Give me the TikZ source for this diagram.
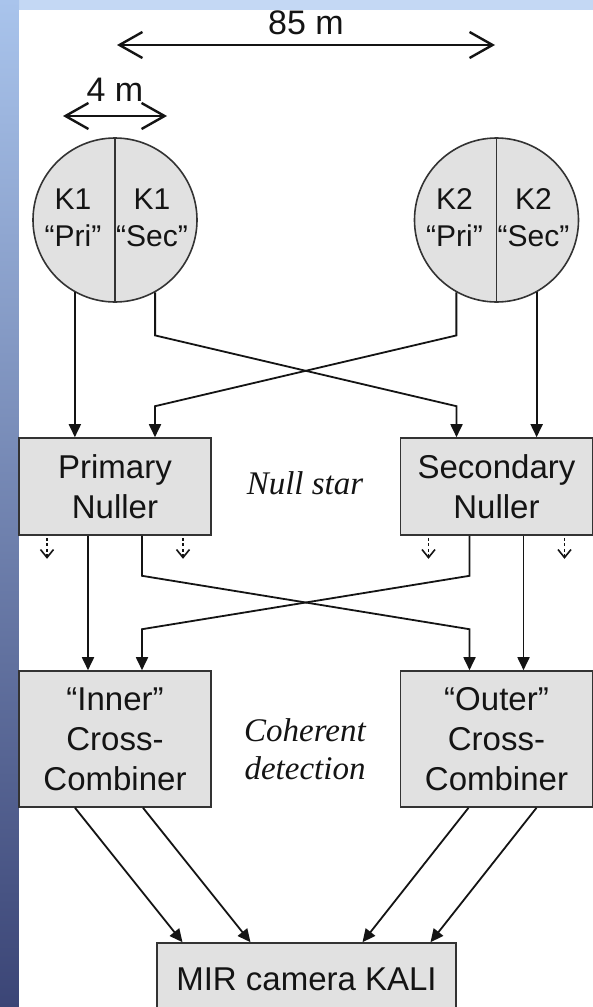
\documentclass[tikz,border=0pt]{standalone}
\usepackage{fontspec}
\setmainfont{Liberation Sans}
\newfontfamily\serifit{Liberation Serif}
\usetikzlibrary{arrows.meta}
\definecolor{boxgray}{HTML}{E1E1E1}
\definecolor{edgegray}{HTML}{333333}
\definecolor{inkgray}{HTML}{141414}
\definecolor{skytop}{HTML}{A9C4EC}
\definecolor{skybottom}{HTML}{3B4576}
\definecolor{skybar}{HTML}{C4D8F4}
\tikzstyle{block} = [draw=edgegray, fill=boxgray, rectangle, line width=1.6pt,
    minimum width=192pt, align=center, font=\fontsize{33}{40}\selectfont, text=inkgray]
\tikzstyle{dish} = [draw=edgegray, fill=boxgray, circle, line width=1.6pt,
    minimum size=164pt, inner sep=0pt]
\tikzstyle{half} = [align=center, font=\fontsize{30}{37}\selectfont, text=inkgray]
\tikzstyle{note} = [align=center, font=\serifit\itshape\fontsize{33}{38}\selectfont, text=inkgray]
\tikzstyle{line} = [draw=inkgray, line width=1.8pt, -{Triangle[length=13pt,width=12pt]}]
\tikzstyle{leak} = [draw=inkgray, line width=1.6pt, dash pattern=on 3pt off 2.5pt,
    -{Straight Barb[length=8pt,width=13pt]}]
\tikzstyle{gauge} = [draw=inkgray, line width=2.4pt,
    {Straight Barb[length=23pt,width=26pt]}-{Straight Barb[length=23pt,width=26pt]}]
\begin{document}
\begin{tikzpicture}[x=1pt, y=-1pt, node distance=381.5pt]
    % backdrop
    \fill [skybar] (0,0) rectangle (593,1007);
    \shade [top color=skytop, bottom color=skybottom] (0,0) rectangle (19,1007);
    \fill [white] (19,10) rectangle (593,1007);
    \useasboundingbox (0,0) rectangle (593,1007);
    % baselines
    \coordinate (far w) at (117,45);
    \coordinate (far e) at (495,45);
    \coordinate (dish w) at (63,116);
    \coordinate (dish e) at (167,116);
    \path [gauge] (far w) -- node [above=6pt, font=\fontsize{34}{40}\selectfont, text=inkgray] (span85) {85 m} (far e);
    \path [gauge] (dish w) -- node [above=10pt, font=\fontsize{34}{40}\selectfont, text=inkgray] (span4) {4 m} (dish e);
    % telescopes
    \node [dish] (k1) at (115,220) {};
    \node [dish, right of=k1] (k2) {};
    \draw [edgegray, line width=1.6pt] (k1.north) -- (k1.south);
    \draw [edgegray, line width=1.6pt] (k2.north) -- (k2.south);
    \node [half, left of=k1, node distance=42pt, yshift=2pt] (k1pri) {K1\\“Pri”};
    \node [half, right of=k1, node distance=37pt, yshift=2pt] (k1sec) {K1\\“Sec”};
    \node [half, left of=k2, node distance=42pt, yshift=2pt] (k2pri) {K2\\“Pri”};
    \node [half, right of=k2, node distance=37pt, yshift=2pt] (k2sec) {K2\\“Sec”};
    % nullers
    \node [block, minimum height=97pt, below of=k1, node distance=266.5pt] (pn) {Primary\\Nuller};
    \node [block, minimum height=97pt, right of=pn] (sn) {Secondary\\Nuller};
    \node [note, right of=pn, node distance=190pt, yshift=3pt] (nullstar) {Null star};
    % cross-combiners
    \node [block, minimum height=136pt, below of=pn, node distance=252.5pt] (inner) {“Inner”\\Cross-\\Combiner};
    \node [block, minimum height=136pt, right of=inner] (outer) {“Outer”\\Cross-\\Combiner};
    \node [note, right of=inner, node distance=190pt, yshift=-10pt] (coherent) {Coherent\\detection};
    \node [block, minimum width=299pt, minimum height=72pt, below of=inner, node distance=240pt, xshift=191.5pt] (mir) {MIR camera KALI};
    % beams to the nullers
    \path [line] (k1.-119) -- (k1.-119 |- pn.north);
    \path [line] (k1.-61) -- ++(0,43) -- ([xshift=-40pt,yshift=31pt]sn.north) -- ([xshift=-40pt]sn.north);
    \path [line] (k2.-119) -- ++(0,43) -- ([xshift=40pt,yshift=31pt]pn.north) -- ([xshift=40pt]pn.north);
    \path [line] (k2.-61) -- (k2.-61 |- sn.north);
    % bright outputs
    \path [leak] ([xshift=-68pt,yshift=-2pt]pn.south) -- ++(0,21);
    \path [leak] ([xshift=68pt,yshift=-2pt]pn.south) -- ++(0,21);
    \path [leak] ([xshift=-68pt,yshift=-2pt]sn.south) -- ++(0,21);
    \path [leak] ([xshift=68pt,yshift=-2pt]sn.south) -- ++(0,21);
    % nulled beams to the combiners
    \path [line] ([xshift=-27pt]pn.south) -- ([xshift=-27pt]inner.north);
    \path [line] ([xshift=27pt]pn.south) -- ++(0,40) -- ([xshift=-27pt,yshift=41pt]outer.north) -- ([xshift=-27pt]outer.north);
    \path [line] ([xshift=-27pt]sn.south) -- ++(0,40) -- ([xshift=27pt,yshift=41pt]inner.north) -- ([xshift=27pt]inner.north);
    \path [line] ([xshift=27pt]sn.south) -- ([xshift=27pt]outer.north);
    % to the camera
    \path [line] ([xshift=-40pt]inner.south) -- ([xshift=-124pt]mir.north);
    \path [line] ([xshift=28pt]inner.south) -- ([xshift=-56pt]mir.north);
    \path [line] ([xshift=-28pt]outer.south) -- ([xshift=56pt]mir.north);
    \path [line] ([xshift=40pt]outer.south) -- ([xshift=124pt]mir.north);
\end{tikzpicture}
\end{document}
